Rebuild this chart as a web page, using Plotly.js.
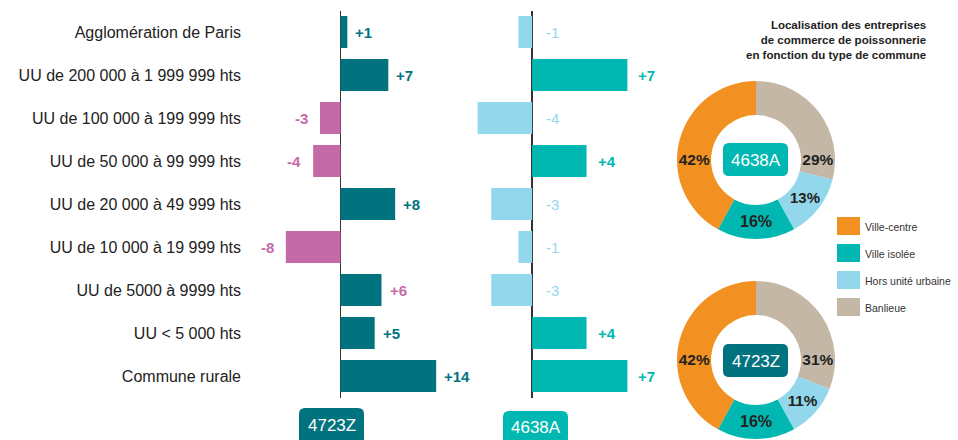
<!DOCTYPE html>
<html>
<head>
<meta charset="utf-8">
<script src="https://cdn.plot.ly/plotly-3.0.1.min.js"></script>
<style>
  html, body { margin: 0; padding: 0; background: #fff; }
  #chart { width: 958px; height: 440px; }
</style>
</head>
<body>
<div id="chart"></div>
<script>
// categories (top to bottom)
const categories = [
    'Agglomération de Paris',
    'UU de 200 000 à 1 999 999 hts',
    'UU de 100 000 à 199 999 hts',
    'UU de 50 000 à 99 999 hts',
    'UU de 20 000 à 49 999 hts',
    'UU de 10 000 à 19 999 hts',
    'UU de 5000 à 9999 hts',
    'UU < 5 000 hts',
    'Commune rurale'
];
// evolution per code
const values4723Z = [1, 7, -3, -4, 8, -8, 6, 5, 14];
const values4638A = [-1, 7, -4, 4, -3, -1, -3, 4, 7];

// donut data, in legend order
const communeTypes = ['Ville-centre', 'Ville isolée', 'Hors unité urbaine', 'Banlieue'];
const shares4638A = [42, 16, 13, 29];
const shares4723Z = [42, 16, 11, 31];

const W = 958, H = 440;
const FONT = 'Liberation Sans, Arial, sans-serif';

const DARK_TEAL = '#00737f';
const PINK = '#c56aa8';
const TEAL = '#00b8b1';
const LIGHT_BLUE = '#93d7ec';
const typeColors = ['#f39022', '#00b8b1', '#93d7ec', '#c4b7a6'];

// pixel -> paper helpers
function px(x) { return x / W; }
function py(y) { return 1 - y / H; }

// rounded rectangle as svg path (pixel coords in, paper coords out)
function roundRect(x0, y0, x1, y1, r) {
    const X = v => px(v).toFixed(5), Y = v => py(v).toFixed(5);
    return `M${X(x0 + r)},${Y(y0)} L${X(x1 - r)},${Y(y0)} Q${X(x1)},${Y(y0)} ${X(x1)},${Y(y0 + r)} ` +
        `L${X(x1)},${Y(y1 - r)} Q${X(x1)},${Y(y1)} ${X(x1 - r)},${Y(y1)} L${X(x0 + r)},${Y(y1)} ` +
        `Q${X(x0)},${Y(y1)} ${X(x0)},${Y(y1 - r)} L${X(x0)},${Y(y0 + r)} Q${X(x0)},${Y(y0)} ${X(x0 + r)},${Y(y0)} Z`;
}

function fmt(v) { return v > 0 ? '+' + v : String(v); }

const leftColors = values4723Z.map(v => v >= 0 ? DARK_TEAL : PINK);
const rightColors = values4638A.map(v => v >= 0 ? TEAL : LIGHT_BLUE);

const barLeft = {
    type: 'bar', orientation: 'h',
    x: values4723Z, y: categories,
    xaxis: 'x', yaxis: 'y',
    width: 0.74,
    marker: { color: leftColors, line: { width: 0 } },
    hoverinfo: 'skip', showlegend: false
};
const barRight = {
    type: 'bar', orientation: 'h',
    x: values4638A, y: categories,
    xaxis: 'x2', yaxis: 'y2',
    width: 0.74,
    marker: { color: rightColors, line: { width: 0 } },
    hoverinfo: 'skip', showlegend: false
};

// slices run clockwise from 12 o'clock: Banlieue first, Ville-centre last
function donut(shares, y0, y1) {
    return {
        type: 'pie',
        labels: communeTypes.slice().reverse(),
        values: shares.slice().reverse(),
        sort: false,
        direction: 'clockwise',
        rotation: 0,
        hole: 0.57,
        domain: { x: [px(677), px(835)], y: [py(y1), py(y0)] },
        marker: { colors: typeColors.slice().reverse(), line: { width: 0 } },
        texttemplate: '%{value}%',
        textposition: 'inside',
        insidetextorientation: 'horizontal',
        textfont: { family: FONT, size: 16, weight: 'bold', color: '#222' },
        hoverinfo: 'skip', showlegend: false
    };
}

const annotations = [];
const shapes = [];

// value labels on the bars
values4723Z.forEach((v, i) => {
    // the +6 label is pink in the original
    const col = (v < 0 || i === 6) ? PINK : DARK_TEAL;
    annotations.push({
        xref: 'x', yref: 'y', x: v, y: categories[i],
        text: fmt(v), showarrow: false,
        xanchor: v >= 0 ? 'left' : 'right', xshift: v >= 0 ? 6 : -10,
        font: { family: FONT, size: 15, weight: 'bold', color: col }
    });
});
values4638A.forEach((v, i) => {
    annotations.push({
        xref: 'x2', yref: 'y2', x: Math.max(v, 0), y: categories[i],
        text: fmt(v), showarrow: false,
        xanchor: 'left', xshift: v >= 0 ? 9 : 12,
        font: { family: FONT, size: 15, weight: v >= 0 ? 'bold' : 'normal', color: v >= 0 ? TEAL : LIGHT_BLUE }
    });
});

// code badges
function badge(label, color, box, ty) {
    shapes.push({ type: 'path', xref: 'paper', yref: 'paper', path: roundRect(box[0], box[1], box[2], box[3], 6),
        fillcolor: color, line: { width: 0 }, layer: 'above' });
    annotations.push({ xref: 'paper', yref: 'paper', x: px((box[0] + box[2]) / 2), y: py(ty),
        text: label, showarrow: false, xanchor: 'center', yanchor: 'middle',
        font: { family: FONT, size: 17, color: '#fff' } });
}
badge('4723Z', DARK_TEAL, [299, 408, 364, 450], 425);
badge('4638A', TEAL, [503, 411, 568, 450], 427);
badge('4638A', TEAL, [723, 143, 788, 176], 160);
badge('4723Z', DARK_TEAL, [723, 344, 788, 377], 361);

// donut title
annotations.push({
    xref: 'paper', yref: 'paper', x: px(928), y: py(17),
    xanchor: 'right', yanchor: 'top', align: 'right', showarrow: false,
    text: 'Localisation des entreprises<br>de commerce de poissonnerie<br>en fonction du type de commune',
    font: { family: FONT, size: 11.5, weight: 'bold', color: '#222' }
});

// legend
communeTypes.forEach((t, i) => {
    const top = 217 + i * 27;
    shapes.push({ type: 'rect', xref: 'paper', yref: 'paper',
        x0: px(837), x1: px(860), y0: py(top + 18), y1: py(top),
        fillcolor: typeColors[i], line: { width: 0 } });
    annotations.push({ xref: 'paper', yref: 'paper', x: px(863), y: py(top + 9.5),
        xanchor: 'left', yanchor: 'middle', showarrow: false, text: t,
        font: { family: FONT, size: 10.5, color: '#333' } });
});

const yDomain = [py(397.5), py(10.5)];

const layout = {
    width: W, height: H,
    margin: { l: 0, r: 0, t: 0, b: 0 },
    paper_bgcolor: '#fff', plot_bgcolor: 'rgba(0,0,0,0)',
    font: { family: FONT },
    showlegend: false,
    xaxis: {
        domain: [px(279), px(443)], range: [-9, 15],
        showgrid: false, showticklabels: false, ticks: '', showline: false,
        zeroline: true, zerolinecolor: '#333', zerolinewidth: 1.5, fixedrange: true
    },
    yaxis: {
        domain: yDomain, type: 'category', categoryorder: 'array', categoryarray: categories,
        range: [8.5, -0.5], showgrid: false, zeroline: false, showline: false, ticks: '',
        ticklabelstandoff: 37,
        tickfont: { family: FONT, size: 16, color: '#222' }, fixedrange: true
    },
    xaxis2: {
        domain: [px(464), px(641)], range: [-5, 8], anchor: 'y2',
        showgrid: false, showticklabels: false, ticks: '', showline: false,
        zeroline: true, zerolinecolor: '#333', zerolinewidth: 1.5, fixedrange: true
    },
    yaxis2: {
        domain: yDomain, anchor: 'x2', type: 'category', categoryorder: 'array', categoryarray: categories,
        range: [8.5, -0.5], showgrid: false, zeroline: false, showline: false,
        showticklabels: false, ticks: '', fixedrange: true
    },
    annotations: annotations,
    shapes: shapes
};

const data = [barLeft, barRight, donut(shares4638A, 81, 239), donut(shares4723Z, 281, 439)];
Plotly.newPlot('chart', data, layout, { displayModeBar: false, staticPlot: true });
</script>
</body>
</html>
